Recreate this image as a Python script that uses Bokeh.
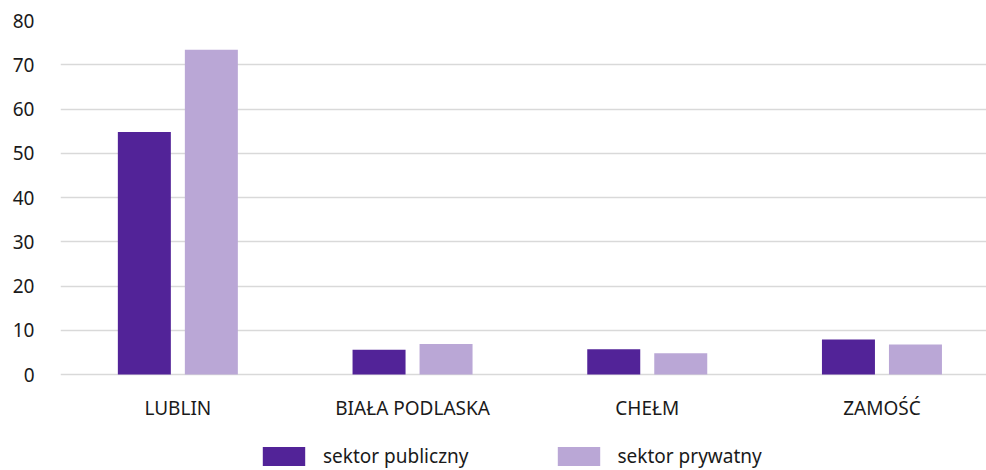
from bokeh.plotting import figure
from bokeh.models import Range1d, FixedTicker, Legend, LegendItem, ColumnDataSource
from bokeh.core.properties import value
from bokeh.transform import dodge
from bokeh.embed import file_html
from bokeh.resources import INLINE

cities = ["LUBLIN", "BIAŁA PODLASKA", "CHEŁM", "ZAMOŚĆ"]
publiczny = [54.8, 5.6, 5.7, 7.9]
prywatny = [73.4, 6.9, 4.8, 6.8]
series_names = ["sektor publiczny", "sektor prywatny"]
y_ticks = [0, 10, 20, 30, 40, 50, 60, 70, 80]

DARK = "#522398"
LIGHT = "#BAA7D6"
FONT = "Noto Sans"
TXT = "#1a1a1a"
FS = "19px"

idx = list(range(len(cities)))
src = ColumnDataSource(dict(x=idx, pub=publiczny, pry=prywatny, city=cities))

# layout geometry (pixels)
W, H = 986, 470
left, top = 60, 20
cat_px = 234.7
px_per_unit = 354 / 80.0
frame_w = W - left
frame_h = H - top
y_min = 80 - frame_h / px_per_unit

p = figure(width=W, height=H, output_backend="svg", toolbar_location=None,
           x_range=Range1d(-0.5, -0.5 + frame_w / cat_px), y_range=Range1d(y_min, 80),
           min_border_left=left, min_border_right=0, min_border_top=top, min_border_bottom=0)
p.outline_line_color = None
p.background_fill_color = "white"
p.border_fill_color = "white"

bw = 53 / cat_px
off = 33.5 / cat_px
r1 = p.vbar(x=dodge("x", -off), top="pub", width=bw, source=src, fill_color=DARK, line_color=None)
r2 = p.vbar(x=dodge("x", off), top="pry", width=bw, source=src, fill_color=LIGHT, line_color=None)

# category labels under the bars
p.text(x="x", y=-33 / px_per_unit, text="city", source=src,
       text_font=value(FONT), text_font_size=FS, text_color=TXT,
       text_align="center", text_baseline="middle")

p.xaxis.visible = False
p.xgrid.grid_line_color = None
p.ygrid.grid_line_color = "#d9d9d9"
p.ygrid.grid_line_width = 1.5
p.yaxis.ticker = FixedTicker(ticks=y_ticks)
p.ygrid.ticker = FixedTicker(ticks=y_ticks)

ax = p.yaxis[0]
ax.axis_line_color = None
ax.major_tick_line_color = None
ax.minor_tick_line_color = None
ax.major_tick_out = 0
ax.major_tick_in = 0
ax.major_label_text_font = FONT
ax.major_label_text_font_size = FS
ax.major_label_text_color = TXT
ax.major_label_standoff = 26

legend = Legend(items=[LegendItem(label=series_names[0], renderers=[r1]),
                       LegendItem(label=series_names[1], renderers=[r2])],
                orientation="horizontal", location=(197, 1),
                glyph_width=53, glyph_height=24, label_standoff=13, spacing=83,
                padding=0, margin=0, border_line_color=None, background_fill_alpha=0,
                label_text_font=FONT, label_text_font_size=FS, label_text_color=TXT)
p.add_layout(legend, "center")

open("out.html", "w").write(file_html(p, INLINE))
